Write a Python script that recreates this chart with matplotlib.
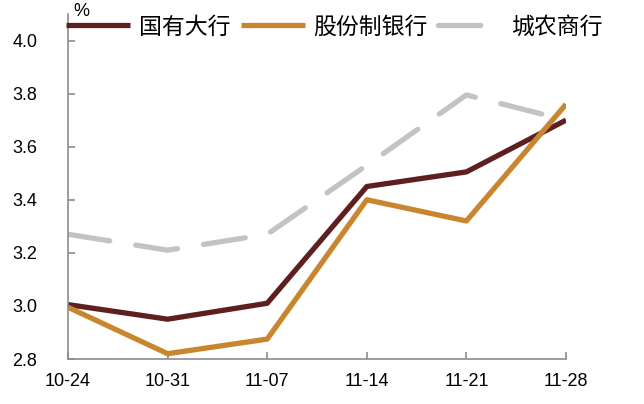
import numpy as np
import matplotlib
matplotlib.use('agg')
from matplotlib import pyplot as plt

plt.rcParams['font.family'] = ['Noto Sans CJK SC', 'DejaVu Sans']

dates = ['10-24', '10-31', '11-07', '11-14', '11-21', '11-28']
big_banks = [3.005, 2.95, 3.01, 3.45, 3.505, 3.70]
joint_stock = [2.995, 2.82, 2.875, 3.40, 3.32, 3.76]
city_rural = [3.27, 3.21, 3.27, 3.53, 3.795, 3.70]
yticks = [2.8, 3.0, 3.2, 3.4, 3.6, 3.8, 4.0]

W, H = 644, 404
fig = plt.figure(figsize=(W / 100, H / 100), dpi=100)
ax = fig.add_axes([68 / W, 1 - 359 / H, (566 - 68) / W, (359 - 14) / H])

x = np.arange(len(dates))
ax.plot(x, big_banks, color='#5E1F20', lw=3.8, label='国有大行', solid_capstyle='butt')
ax.plot(x, joint_stock, color='#C8862F', lw=3.8, label='股份制银行', solid_capstyle='butt')
ax.plot(x, city_rural, color='#C3C3C3', lw=3.8, ls=(0, (8, 5)), dash_capstyle='round',
        label='城农商行')

ax.set_xlim(0, len(dates) - 1)
ax.set_ylim(2.8, 4.1)
ax.set_xticks(x)
ax.set_xticklabels(dates, fontsize=13, family=['Liberation Sans', 'DejaVu Sans'])
ax.set_yticks(yticks)
ax.set_yticklabels(['%.1f' % v for v in yticks], fontsize=13, family=['Liberation Sans', 'DejaVu Sans'])

for s in ['top', 'right']:
    ax.spines[s].set_visible(False)
for s in ['left', 'bottom']:
    ax.spines[s].set_color('#8C8C8C')
    ax.spines[s].set_linewidth(1.2)
ax.tick_params(axis='both', direction='in', length=5, color='#8C8C8C', width=1.2)
ax.tick_params(axis='y', pad=22)
ax.tick_params(axis='x', pad=10)

fig.text(73 / W, 1 - 12 / H, '%', fontsize=13, ha='left', va='center',
         family=['Liberation Sans', 'DejaVu Sans'])

leg = fig.legend(loc='center left', bbox_to_anchor=(66 / W, 1 - 27 / H), ncol=3, frameon=False,
                 fontsize=16.5, handlelength=2.8, handletextpad=0.38, columnspacing=0.45,
                 borderpad=0, borderaxespad=0)

fig.savefig('out.png', dpi=100)
